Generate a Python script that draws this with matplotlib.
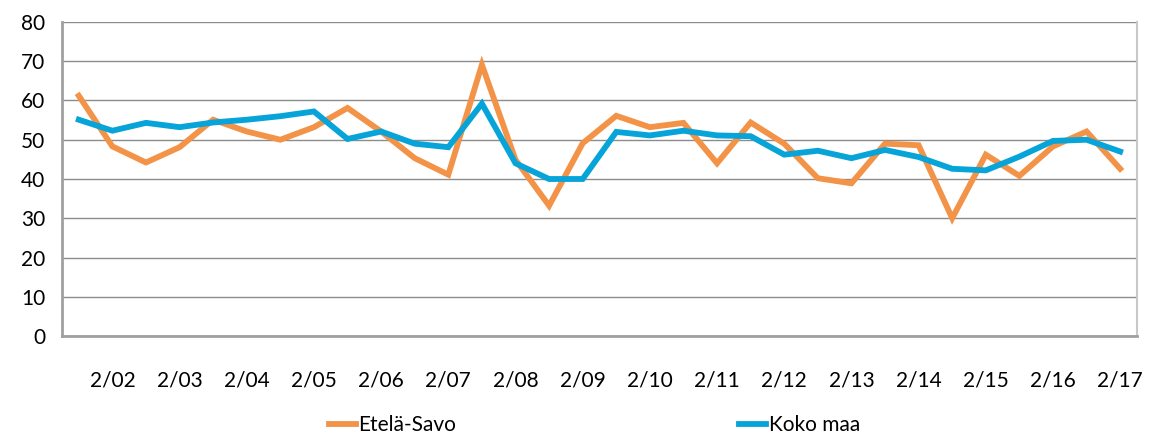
import matplotlib
matplotlib.use('Agg')
import matplotlib.pyplot as plt

# half-year periods 1/02 .. 2/17, only second halves get a label
periods = [f'{h}/{y:02d}' for y in range(2, 18) for h in (1, 2)]

etela_savo = [61.2, 48.3, 44.2, 48.1, 55.1, 52.1, 50.0, 53.2, 58.1, 52.1, 45.3,
              41.1, 69.1, 44.9, 33.2, 49.1, 56.1, 53.2, 54.3, 44.0, 54.4, 49.0,
              40.2, 38.9, 49.0, 48.6, 30.0, 46.2, 40.8, 48.3, 52.1, 42.6]
koko_maa = [55.1, 52.3, 54.3, 53.2, 54.4, 55.1, 56.0, 57.2, 50.2, 52.1, 49.0,
            48.1, 59.2, 44.0, 40.0, 40.0, 52.0, 51.1, 52.3, 51.1, 50.9, 46.2,
            47.2, 45.3, 47.4, 45.6, 42.6, 42.2, 45.7, 49.7, 50.0, 47.0]

plt.rcParams['font.family'] = ['Lato', 'DejaVu Sans']

fig = plt.figure(figsize=(11.61, 4.37), dpi=100)
ax = fig.add_axes([0.0534, 0.2311, 0.9259, 0.7186])

x = range(len(periods))
ax.plot(x, etela_savo, color='#F39348', lw=4.2, label='Etelä-Savo', solid_joinstyle='miter')
ax.plot(x, koko_maa, color='#06A4D8', lw=4.2, label='Koko maa', solid_joinstyle='miter')

ax.set_xlim(-0.5, len(periods) - 0.5)
ax.set_ylim(0, 80)
ax.set_yticks(range(0, 81, 10))
ax.yaxis.grid(True, color='#8C8C8C', lw=1.0)
ax.set_axisbelow(True)

ax.set_xticks(list(x))
ax.set_xticklabels([p if p.startswith('2/') else '' for p in periods])
ax.tick_params(axis='x', length=0, pad=25, labelsize=15)
ax.tick_params(axis='y', length=0, pad=12, labelsize=15)

ax.spines['left'].set_color('#A0A0A0')
ax.spines['left'].set_linewidth(2)
ax.spines['bottom'].set_color('#A0A0A0')
ax.spines['bottom'].set_linewidth(2)
ax.spines['right'].set_color('#C8C8C8')
ax.spines['right'].set_linewidth(1.5)
ax.spines['top'].set_visible(False)

fig.legend(loc='center', bbox_to_anchor=(0.512, 0.027), ncol=2, frameon=False,
           fontsize=15, handlelength=1.3, handletextpad=0.1, columnspacing=13.6)

fig.savefig('out.png', dpi=100)
